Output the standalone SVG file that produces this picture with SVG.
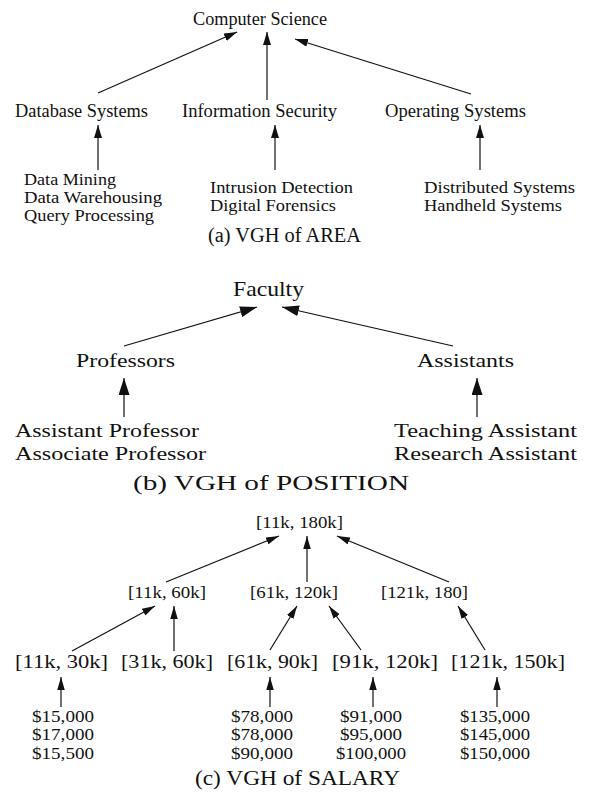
<svg xmlns="http://www.w3.org/2000/svg" width="589" height="795" viewBox="0 0 589 795">
<style>
text{font-family:"Liberation Serif","Times New Roman",serif;fill:#111}
.a{font-size:17px}
.a0{font-size:18px}
.b{font-size:19px}
.b0{font-size:21px}
.c1{font-size:16px}
.c2{font-size:18px}
.c3{font-size:16px;text-anchor:middle}
.cap{font-size:20px}
.e{stroke:#111;stroke-width:1.2;fill:none}
.ea{marker-end:url(#ma)}
.eb{marker-end:url(#mb)}
.ec{marker-end:url(#mc)}
</style>
<defs>
<marker id="ma" markerUnits="userSpaceOnUse" markerWidth="13" markerHeight="8" refX="13" refY="4" orient="auto"><path d="M0,0 L13,4 L0,8 z" fill="#111"/></marker>
<marker id="mb" markerUnits="userSpaceOnUse" markerWidth="17" markerHeight="11" refX="17" refY="5.5" orient="auto"><path d="M0,0 L17,5.5 L0,11 z" fill="#111"/></marker>
<marker id="mc" markerUnits="userSpaceOnUse" markerWidth="13" markerHeight="7.5" refX="13" refY="3.75" orient="auto"><path d="M0,0 L13,3.75 L0,7.5 z" fill="#111"/></marker>
</defs>
<rect width="589" height="795" fill="#fff"/>

<g id="connectors">
<line class="e ea" x1="98" y1="93" x2="237" y2="32"/>
<line class="e ea" x1="267" y1="100" x2="267" y2="32"/>
<line class="e ea" x1="471" y1="94" x2="295" y2="39"/>
<line class="e ea" x1="98" y1="170" x2="98" y2="125"/>
<line class="e ea" x1="275" y1="170" x2="275" y2="125"/>
<line class="e ea" x1="480" y1="170" x2="480" y2="125"/>

<line class="e eb" x1="124" y1="346" x2="257" y2="307"/>
<line class="e eb" x1="453" y1="346" x2="282" y2="307"/>
<line class="e eb" x1="124" y1="417" x2="124" y2="378"/>
<line class="e eb" x1="477" y1="417" x2="477" y2="378"/>

<line class="e ec" x1="166" y1="582" x2="279" y2="536"/>
<line class="e ec" x1="307" y1="582" x2="307" y2="536"/>
<line class="e ec" x1="449" y1="582" x2="337" y2="536"/>
<line class="e ec" x1="72" y1="651" x2="155" y2="606"/>
<line class="e ec" x1="174" y1="651" x2="174" y2="606"/>
<line class="e ec" x1="270" y1="650" x2="297" y2="606"/>
<line class="e ec" x1="361" y1="650" x2="329" y2="606"/>
<line class="e ec" x1="485" y1="650" x2="458" y2="606"/>
<line class="e ec" x1="61" y1="707" x2="61" y2="677"/>
<line class="e ec" x1="270" y1="707" x2="270" y2="677"/>
<line class="e ec" x1="373" y1="707" x2="373" y2="677"/>
<line class="e ec" x1="497" y1="707" x2="497" y2="677"/>
</g>

<g id="cs"><text class="a0" x="193" y="25" textLength="134" lengthAdjust="spacingAndGlyphs">Computer Science</text></g>
<g id="db"><text class="a0" x="15" y="117" textLength="133" lengthAdjust="spacingAndGlyphs">Database Systems</text></g>
<g id="is"><text class="a0" x="182" y="117" textLength="155" lengthAdjust="spacingAndGlyphs">Information Security</text></g>
<g id="os"><text class="a0" x="385" y="117" textLength="141" lengthAdjust="spacingAndGlyphs">Operating Systems</text></g>
<g id="db-leaves">
<text class="a" x="24" y="185" textLength="92" lengthAdjust="spacingAndGlyphs">Data Mining</text>
<text class="a" x="24" y="203" textLength="138" lengthAdjust="spacingAndGlyphs">Data Warehousing</text>
<text class="a" x="24" y="221" textLength="130" lengthAdjust="spacingAndGlyphs">Query Processing</text>
</g>
<g id="is-leaves">
<text class="a" x="210" y="193" textLength="143" lengthAdjust="spacingAndGlyphs">Intrusion Detection</text>
<text class="a" x="210" y="211" textLength="126" lengthAdjust="spacingAndGlyphs">Digital Forensics</text>
</g>
<g id="os-leaves">
<text class="a" x="424" y="193" textLength="151" lengthAdjust="spacingAndGlyphs">Distributed Systems</text>
<text class="a" x="424" y="211" textLength="138" lengthAdjust="spacingAndGlyphs">Handheld Systems</text>
</g>
<text class="cap" x="208" y="242" textLength="153" lengthAdjust="spacingAndGlyphs">(a) VGH of AREA</text>

<g id="faculty"><text class="b0" x="233" y="296" textLength="71" lengthAdjust="spacingAndGlyphs">Faculty</text></g>
<g id="professors"><text class="b" x="76" y="367" textLength="99" lengthAdjust="spacingAndGlyphs">Professors</text></g>
<g id="assistants"><text class="b" x="417" y="367" textLength="97" lengthAdjust="spacingAndGlyphs">Assistants</text></g>
<g id="prof-leaves">
<text class="b" x="15" y="437" textLength="184" lengthAdjust="spacingAndGlyphs">Assistant Professor</text>
<text class="b" x="15" y="460" textLength="191" lengthAdjust="spacingAndGlyphs">Associate Professor</text>
</g>
<g id="asst-leaves">
<text class="b" x="394" y="437" textLength="183" lengthAdjust="spacingAndGlyphs">Teaching Assistant</text>
<text class="b" x="394" y="460" textLength="183" lengthAdjust="spacingAndGlyphs">Research Assistant</text>
</g>
<text class="cap" x="133" y="490" textLength="276" lengthAdjust="spacingAndGlyphs">(b) VGH of POSITION</text>

<g id="s-root"><text class="c1" x="256" y="528" textLength="87" lengthAdjust="spacingAndGlyphs">[11k, 180k]</text></g>
<g id="s-11-60"><text class="c1" x="128" y="598" textLength="78" lengthAdjust="spacingAndGlyphs">[11k, 60k]</text></g>
<g id="s-61-120"><text class="c1" x="250" y="598" textLength="88" lengthAdjust="spacingAndGlyphs">[61k, 120k]</text></g>
<g id="s-121-180"><text class="c1" x="381" y="598" textLength="87" lengthAdjust="spacingAndGlyphs">[121k, 180]</text></g>
<g id="s-11-30"><text class="c2" x="15" y="668" textLength="93" lengthAdjust="spacingAndGlyphs">[11k, 30k]</text></g>
<g id="s-31-60"><text class="c2" x="121" y="668" textLength="92" lengthAdjust="spacingAndGlyphs">[31k, 60k]</text></g>
<g id="s-61-90"><text class="c2" x="227" y="668" textLength="91" lengthAdjust="spacingAndGlyphs">[61k, 90k]</text></g>
<g id="s-91-120"><text class="c2" x="332" y="668" textLength="106" lengthAdjust="spacingAndGlyphs">[91k, 120k]</text></g>
<g id="s-121-150"><text class="c2" x="451" y="668" textLength="114" lengthAdjust="spacingAndGlyphs">[121k, 150k]</text></g>
<g id="s-leaves-1">
<text class="c3" x="63" y="722" textLength="62" lengthAdjust="spacingAndGlyphs">$15,000</text>
<text class="c3" x="63" y="740" textLength="62" lengthAdjust="spacingAndGlyphs">$17,000</text>
<text class="c3" x="63" y="759" textLength="62" lengthAdjust="spacingAndGlyphs">$15,500</text>
</g>
<g id="s-leaves-2">
<text class="c3" x="262" y="722" textLength="62" lengthAdjust="spacingAndGlyphs">$78,000</text>
<text class="c3" x="262" y="740" textLength="62" lengthAdjust="spacingAndGlyphs">$78,000</text>
<text class="c3" x="262" y="759" textLength="62" lengthAdjust="spacingAndGlyphs">$90,000</text>
</g>
<g id="s-leaves-3">
<text class="c3" x="371" y="722" textLength="62" lengthAdjust="spacingAndGlyphs">$91,000</text>
<text class="c3" x="371" y="740" textLength="62" lengthAdjust="spacingAndGlyphs">$95,000</text>
<text class="c3" x="371" y="759" textLength="70" lengthAdjust="spacingAndGlyphs">$100,000</text>
</g>
<g id="s-leaves-4">
<text class="c3" x="495" y="722" textLength="70" lengthAdjust="spacingAndGlyphs">$135,000</text>
<text class="c3" x="495" y="740" textLength="70" lengthAdjust="spacingAndGlyphs">$145,000</text>
<text class="c3" x="495" y="759" textLength="70" lengthAdjust="spacingAndGlyphs">$150,000</text>
</g>
<text class="cap" x="195" y="785" textLength="205" lengthAdjust="spacingAndGlyphs">(c) VGH of SALARY</text>
</svg>
